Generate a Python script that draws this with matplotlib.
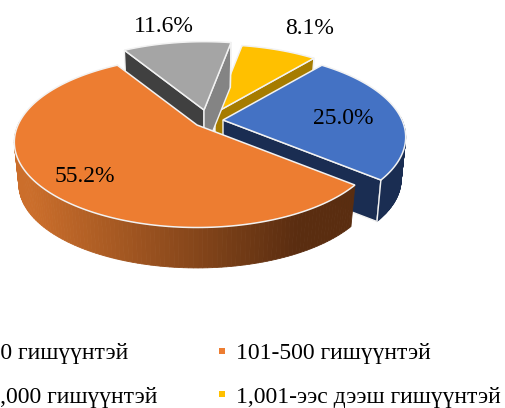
import numpy as np
import matplotlib
matplotlib.use("Agg")
import matplotlib.pyplot as plt
from matplotlib.colors import to_rgb

labels = ["1-100 гишүүнтэй", "101-500 гишүүнтэй", "501-1,000 гишүүнтэй", "1,001-ээс дээш гишүүнтэй"]
shares = [25.0, 55.2, 11.6, 8.1]
face_colors = ["#4472C4", "#ED7D31", "#A5A5A5", "#FFC000"]

plt.rcParams["font.family"] = ["Liberation Serif", "DejaVu Serif"]

START_ANGLE = 50.4
RX, RY = 179, 82     # disk radii in pixels
PERSP = 0.2
DEPTH = 43
LOWER = 0.975        # the underside looks a little smaller


def project(theta, apex):
    x, y = np.cos(theta), np.sin(theta)
    w = 1 + PERSP * y
    return apex[0] + RX * x / w, apex[1] - RY * y / w


def drop(px, py, apex):
    # same point on the underside of the slice
    return apex[0] + (px - apex[0]) * LOWER, apex[1] + (py - apex[1]) * LOWER + DEPTH


def draw_slice(ax, t1, t2, apex, face, wall, start_wall=None, end_wall=None, grad=None):
    thetas = np.radians(np.linspace(t1, t2, 160))
    xs, ys = project(thetas, apex)
    bx, by = drop(xs, ys, apex)
    ax_, ay_ = drop(apex[0], apex[1], apex)

    if start_wall:
        ax.fill([apex[0], xs[0], bx[0], ax_], [apex[1], ys[0], by[0], ay_],
                color=start_wall, ec="#f2f2f2", lw=1.0, zorder=1)
    if end_wall:
        ax.fill([apex[0], xs[-1], bx[-1], ax_], [apex[1], ys[-1], by[-1], ay_],
                color=end_wall, ec="#f2f2f2", lw=1.0, zorder=1)

    # outer rim, only the part that faces the viewer
    for i in range(len(thetas) - 1):
        if np.sin(thetas[i]) > 0.02 and np.sin(thetas[i + 1]) > 0.02:
            continue
        c = wall
        if grad:
            f = np.clip((xs[i] - grad[2]) / (grad[3] - grad[2]), 0, 1)
            c = tuple((1 - f) * np.array(to_rgb(grad[0])) + f * np.array(to_rgb(grad[1])))
        ax.fill([xs[i], xs[i + 1], bx[i + 1], bx[i]], [ys[i], ys[i + 1], by[i + 1], by[i]],
                color=c, ec=c, lw=0.6, zorder=1)

    ax.plot([xs[-1], bx[-1]], [ys[-1], by[-1]], color="#f2f2f2", lw=1.0, zorder=1)
    ax.fill(np.r_[apex[0], xs], np.r_[apex[1], ys], color=face, ec="#f2f2f2", lw=1.1, zorder=1)


def main():
    fig = plt.figure(figsize=(5.05, 4.08), dpi=100)
    ax = fig.add_axes([0, 0, 1, 1])
    ax.set_xlim(0, 505)
    ax.set_ylim(408, 0)
    ax.axis("off")

    scale = 360 / sum(shares)
    bounds = START_ANGLE - np.cumsum([0] + shares) * scale

    # back to front
    draw_slice(ax, bounds[3], bounds[4], (215, 113), face_colors[3], "#A67C00", end_wall="#A67C00")
    draw_slice(ax, bounds[2], bounds[3], (204, 110), face_colors[2], "#7F7F7F",
               start_wall="#404040", end_wall="#848484")
    draw_slice(ax, bounds[0], bounds[1], (223, 120), face_colors[0], "#1A2D52", end_wall="#1A2D52")
    draw_slice(ax, bounds[1], bounds[2], (197, 125), face_colors[1], "#8A4A1C",
               grad=("#CB6E2B", "#5A2D10", 30, 300))

    label_pos = [(343, 119), (85, 176), (164, 26), (310, 28)]
    for v, (x, y) in zip(shares, label_pos):
        ax.text(x, y, f"{v:.1f}%", fontsize=17, ha="center", va="center", color="black", zorder=3)

    # legend, the left column runs off the canvas
    legend_pos = [(128, 354, "right"), (236, 354, "left"), (157, 397, "right"), (236, 397, "left")]
    for name, c, (x, y, ha) in zip(labels, face_colors, legend_pos):
        ax.text(x, y, name, fontsize=17, ha=ha, va="center", color="black", zorder=3, clip_on=False)
        if ha == "left":
            ax.plot([222], [y - 3], marker="s", ms=4.6, color=c, mew=0, zorder=3)

    fig.savefig("out.png", dpi=100)


if __name__ == "__main__":
    main()
